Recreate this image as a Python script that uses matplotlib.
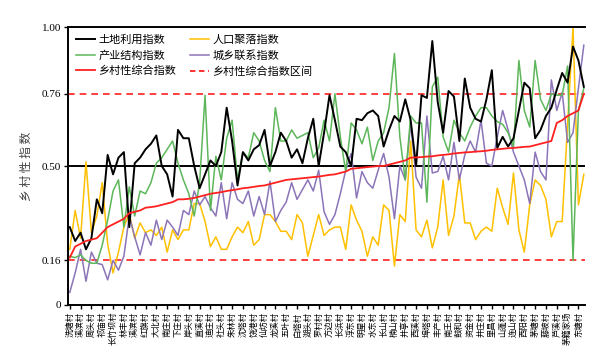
import matplotlib
matplotlib.use("Agg")
import matplotlib.pyplot as plt
from matplotlib.lines import Line2D

plt.rcParams['font.family'] = ['Noto Sans CJK SC', 'DejaVu Sans']

villages = ["洗塘村", "溪滨村", "周头村", "祁庙村", "长竹坝村", "林丰村", "溪滨村", "红旗村",
            "大北村", "南庄村", "下庄村", "岸头村", "直溪村", "迪庄村", "社头村", "朱林村",
            "沈塔村", "饶港村", "仙坊村", "龙溪村", "五叶村", "白塔村", "湖头村", "罗村村",
            "方边村", "长浜村", "浮东村", "明星村", "水东村", "长山村", "楠山村", "井亭村",
            "西溪村", "埠塔村", "丰产村", "南王村", "鼓和村", "资金村", "井庄村", "里昌村",
            "山蓬村", "连山村", "西阳村", "茅塘村", "藤坡村", "芦溪村", "茅籍家场", "东塘村"]

land_use = [0.28, 0.23, 0.26, 0.20, 0.24, 0.38, 0.33, 0.54, 0.47, 0.53, 0.55, 0.28, 0.51, 0.53, 0.56, 0.58,
            0.61, 0.50, 0.47, 0.39, 0.63, 0.60, 0.60, 0.50, 0.42, 0.47, 0.52, 0.50, 0.55, 0.71, 0.59, 0.43,
            0.55, 0.52, 0.56, 0.575, 0.63, 0.50, 0.55, 0.62, 0.59, 0.53, 0.56, 0.51, 0.60, 0.67, 0.50, 0.62,
            0.755, 0.665, 0.57, 0.55, 0.50, 0.67, 0.665, 0.69, 0.70, 0.68, 0.57, 0.63, 0.68, 0.66, 0.74, 0.665,
            0.50, 0.755, 0.745, 0.95, 0.73, 0.62, 0.77, 0.75, 0.59, 0.815, 0.71, 0.67, 0.66, 0.74, 0.845, 0.565,
            0.605, 0.57, 0.60, 0.70, 0.80, 0.78, 0.60, 0.63, 0.68, 0.71, 0.775, 0.835, 0.80, 0.93, 0.88, 0.785]

population = [0.20, 0.34, 0.24, 0.515, 0.26, 0.32, 0.44, 0.22, 0.115, 0.19, 0.28, 0.33, 0.24, 0.295, 0.26, 0.27,
              0.25, 0.28, 0.19, 0.27, 0.235, 0.27, 0.27, 0.365, 0.365, 0.30, 0.21, 0.245, 0.20, 0.20, 0.245, 0.28,
              0.26, 0.30, 0.215, 0.235, 0.325, 0.325, 0.30, 0.265, 0.265, 0.235, 0.325, 0.295, 0.175, 0.25, 0.325, 0.25,
              0.27, 0.28, 0.28, 0.20, 0.36, 0.305, 0.265, 0.175, 0.245, 0.215, 0.36, 0.34, 0.14, 0.325, 0.30, 0.59,
              0.27, 0.245, 0.305, 0.205, 0.28, 0.45, 0.25, 0.32, 0.47, 0.295, 0.295, 0.235, 0.265, 0.28, 0.265, 0.42,
              0.35, 0.29, 0.475, 0.27, 0.19, 0.36, 0.45, 0.43, 0.38, 0.245, 0.30, 0.30, 0.65, 1.00, 0.36, 0.47]

industry = [0.175, 0.17, 0.18, 0.16, 0.15, 0.15, 0.215, 0.305, 0.41, 0.45, 0.28, 0.425, 0.32, 0.41, 0.40, 0.44,
            0.51, 0.53, 0.56, 0.59, 0.51, 0.45, 0.40, 0.32, 0.44, 0.755, 0.34, 0.535, 0.45, 0.60, 0.665, 0.45,
            0.55, 0.53, 0.62, 0.59, 0.52, 0.48, 0.71, 0.59, 0.59, 0.63, 0.60, 0.61, 0.62, 0.53, 0.565, 0.665,
            0.59, 0.76, 0.605, 0.48, 0.655, 0.63, 0.58, 0.64, 0.52, 0.59, 0.62, 0.71, 0.905, 0.605, 0.45, 0.68,
            0.655, 0.655, 0.37, 0.785, 0.82, 0.605, 0.55, 0.665, 0.62, 0.59, 0.64, 0.68, 0.71, 0.71, 0.68, 0.66,
            0.65, 0.62, 0.57, 0.88, 0.70, 0.64, 0.88, 0.74, 0.70, 0.76, 0.755, 0.755, 0.86, 0.16, 0.70, 0.78]

urban_rural = [0.045, 0.115, 0.20, 0.085, 0.19, 0.15, 0.145, 0.09, 0.16, 0.125, 0.175, 0.32, 0.245, 0.18, 0.26, 0.215,
               0.305, 0.235, 0.305, 0.28, 0.25, 0.34, 0.325, 0.41, 0.36, 0.39, 0.35, 0.32, 0.44, 0.31, 0.44, 0.38,
               0.365, 0.41, 0.32, 0.39, 0.325, 0.445, 0.30, 0.34, 0.37, 0.44, 0.38, 0.415, 0.45, 0.41, 0.485, 0.335,
               0.29, 0.325, 0.40, 0.485, 0.545, 0.385, 0.48, 0.44, 0.42, 0.485, 0.545, 0.46, 0.31, 0.50, 0.45, 0.655,
               0.46, 0.42, 0.68, 0.475, 0.48, 0.535, 0.45, 0.585, 0.45, 0.54, 0.59, 0.55, 0.665, 0.51, 0.50, 0.605,
               0.70, 0.63, 0.55, 0.50, 0.45, 0.365, 0.55, 0.48, 0.45, 0.81, 0.70, 0.765, 0.585, 0.62, 0.78, 0.935]

rurality = [0.17, 0.21, 0.22, 0.23, 0.235, 0.24, 0.26, 0.28, 0.29, 0.30, 0.31, 0.33, 0.335, 0.34, 0.35, 0.352,
            0.355, 0.36, 0.365, 0.37, 0.38, 0.38, 0.382, 0.385, 0.39, 0.395, 0.40, 0.403, 0.406, 0.41, 0.413, 0.416,
            0.42, 0.422, 0.425, 0.428, 0.43, 0.435, 0.44, 0.445, 0.45, 0.452, 0.454, 0.456, 0.458, 0.46, 0.462, 0.465,
            0.468, 0.47, 0.475, 0.48, 0.49, 0.492, 0.494, 0.496, 0.498, 0.50, 0.50, 0.505, 0.51, 0.515, 0.52, 0.53,
            0.531, 0.532, 0.534, 0.535, 0.538, 0.54, 0.542, 0.545, 0.547, 0.549, 0.55, 0.552, 0.553, 0.555, 0.558, 0.56,
            0.562, 0.564, 0.565, 0.567, 0.569, 0.57, 0.575, 0.58, 0.585, 0.59, 0.655, 0.665, 0.68, 0.69, 0.70, 0.76]

interval_bounds = [0.16, 0.76]
ref_line = 0.50
yticks = [0, 0.16, 0.50, 0.76, 1.00]
ytick_labels = ["0", "0.16", "0.50", "0.76", "1.00"]

c_black = "#000000"
c_yellow = "#FFC000"
c_green = "#5DB75A"
c_purple = "#8B74B8"
c_red = "#FF2020"

fig = plt.figure(figsize=(6.03, 3.57), dpi=100)
ax = fig.add_axes([0.113, 0.146, 0.857, 0.778])

x = list(range(len(land_use)))

ax.axhline(ref_line, color="black", lw=1.4, zorder=1)
for b in interval_bounds:
    ax.axhline(b, color=c_red, lw=1.2, ls=(0, (4, 3)), zorder=1)

l_black, = ax.plot(x, land_use, color=c_black, lw=1.4, zorder=4)
l_yellow, = ax.plot(x, population, color=c_yellow, lw=1.1, zorder=2)
l_green, = ax.plot(x, industry, color=c_green, lw=1.1, zorder=3)
l_purple, = ax.plot(x, urban_rural, color=c_purple, lw=1.1, zorder=2)
l_red, = ax.plot(x, rurality, color=c_red, lw=1.3, zorder=5)

ax.set_xlim(-0.3, len(x) - 0.8)
ax.set_ylim(0, 1.0)

ax.set_yticks(yticks)
ax.set_yticklabels(ytick_labels, fontfamily="Liberation Serif", fontsize=8)

tick_pos = x[::2][:len(villages)]
ax.set_xticks(tick_pos)
ax.set_xticklabels(villages, fontsize=6, rotation=90, ha="center", va="top")
ax.tick_params(axis="x", length=3, width=1, pad=2)
ax.tick_params(axis="y", length=3, width=1, pad=2)

for s in ["top", "bottom", "left"]:
    ax.spines[s].set_linewidth(1.4)
ax.spines["right"].set_visible(False)

ax.set_ylabel("乡 村 性 指 数", fontsize=8.5, labelpad=6, color="#404040")

dash_handle = Line2D([], [], color=c_red, lw=1.3, ls=(0, (3, 2)))
handles = [l_black, l_green, l_red, l_yellow, l_purple, dash_handle]
labels = ["土地利用指数", "产业结构指数", "乡村性综合指数", "人口聚落指数", "城乡联系指数", "乡村性综合指数区间"]
leg = ax.legend(handles, labels, ncol=2, loc="upper left", bbox_to_anchor=(0.0, 1.0),
                borderaxespad=0.3, frameon=False, fontsize=8, handlelength=1.7,
                columnspacing=1.3, labelspacing=0.45, handletextpad=0.3)

fig.savefig("out.png", dpi=100)
